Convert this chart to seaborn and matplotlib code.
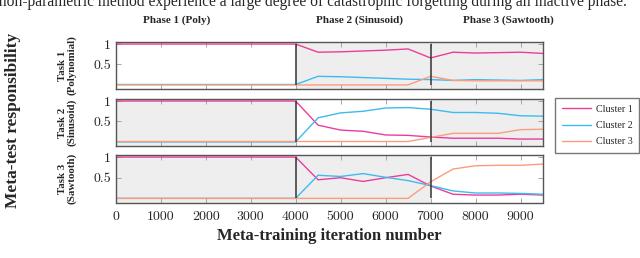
import numpy as np
import pandas as pd
import matplotlib
matplotlib.use("Agg")
import matplotlib.pyplot as plt
from matplotlib.transforms import blended_transform_factory
import seaborn as sns

iters = np.arange(0, 10000, 500)
clusters = ["Cluster 1", "Cluster 2", "Cluster 3"]
task_names = ["Task 1\n(Polynomial)", "Task 2\n(Sinusoid)", "Task 3\n(Sawtooth)"]
phase_names = ["Phase 1 (Poly)", "Phase 2 (Sinusoid)", "Phase 3 (Sawtooth)"]
phase_edges = [0, 4000, 7000, 9500]
x_ticks = [0, 1000, 2000, 3000, 4000, 5000, 6000, 7000, 8000, 9000]
y_ticks = [0.5, 1]
y_ticklabels = ["0.5", "1"]

# responsibilities, one value every 500 iterations (0 .. 9500)
task1_c1 = [1.0] * 9 + [0.80, 0.81, 0.83, 0.85, 0.88, 0.66, 0.80, 0.78, 0.79, 0.80, 0.77]
task1_c2 = [0.01] * 9 + [0.21, 0.20, 0.18, 0.16, 0.14, 0.13, 0.11, 0.13, 0.12, 0.11, 0.13]
task1_c3 = [0.0] * 9 + [0.0, 0.0, 0.0, 0.0, 0.0, 0.21, 0.11, 0.10, 0.10, 0.10, 0.10]

task2_c1 = [1.0] * 9 + [0.41, 0.29, 0.26, 0.17, 0.16, 0.12, 0.09, 0.09, 0.09, 0.07, 0.07]
task2_c2 = [0.0] * 9 + [0.59, 0.71, 0.75, 0.83, 0.84, 0.80, 0.72, 0.72, 0.70, 0.64, 0.63]
task2_c3 = [0.01] * 9 + [0.01, 0.01, 0.01, 0.01, 0.01, 0.11, 0.21, 0.21, 0.21, 0.30, 0.31]

task3_c1 = [1.0] * 9 + [0.45, 0.50, 0.41, 0.50, 0.58, 0.30, 0.10, 0.08, 0.08, 0.10, 0.08]
task3_c2 = [0.0] * 9 + [0.56, 0.53, 0.60, 0.51, 0.43, 0.31, 0.18, 0.13, 0.13, 0.12, 0.10]
task3_c3 = [0.0] * 9 + [0.0, 0.0, 0.0, 0.0, 0.0, 0.40, 0.71, 0.79, 0.80, 0.80, 0.83]

tasks = [
    [task1_c1, task1_c2, task1_c3],
    [task2_c1, task2_c2, task2_c3],
    [task3_c1, task3_c2, task3_c3],
]

rows = []
for t, series in enumerate(tasks):
    for c, vals in enumerate(series):
        for x, v in zip(iters, vals):
            rows.append((t, clusters[c], x, v))
df = pd.DataFrame(rows, columns=["task", "cluster", "iteration", "resp"])

palette = {"Cluster 1": "#ec3d9c", "Cluster 2": "#3cbcee", "Cluster 3": "#fb9c7c"}

sns.set_style("ticks")
serif = ["Liberation Serif", "DejaVu Serif"]
plt.rcParams["font.family"] = serif

W, H = 640, 258
fig = plt.figure(figsize=(6.4, 2.58), dpi=100)
left, right = 115.7, 543
panel_px = [(42, 89), (99, 146), (155, 202.5)]
axes = []
for top, bot in panel_px:
    ax = fig.add_axes([left / W, 1 - bot / H, (right - left) / W, (bot - top) / H])
    axes.append(ax)

for i, ax in enumerate(axes):
    for j in range(3):
        if j != i:
            ax.axvspan(phase_edges[j], phase_edges[j + 1], color="#eeeeee", lw=0, zorder=0)
    sns.lineplot(data=df[df.task == i], x="iteration", y="resp", hue="cluster",
                 palette=palette, ax=ax, legend=False, lw=1.0, zorder=2)
    ax.vlines(phase_edges[1:3], 0, 1, color="#333333", lw=1.1, zorder=3)
    ax.set_xlim(0, 9500)
    ax.set_ylim(-0.1, 1.05)
    ax.set_xticks(x_ticks)
    ax.set_yticks(y_ticks)
    ax.set_yticklabels(y_ticklabels)
    ax.set_xlabel("")
    ax.set_ylabel("")
    ax.tick_params(direction="in", top=True, right=True, length=3.5, width=0.6,
                   color="#999999", labelsize=10)
    ax.tick_params(axis="x", pad=6)
    for s in ax.spines.values():
        s.set_color("#555555")
        s.set_linewidth(1.0)
    if i < 2:
        ax.set_xticklabels([])
    for lab in ax.get_xticklabels() + ax.get_yticklabels():
        lab.set_fontfamily("cmr10")
    fig.text(67 / W, 1 - (panel_px[i][0] + panel_px[i][1]) / 2 / H, task_names[i],
             rotation=90, ha="center", va="center", fontsize=7.8, fontweight="bold",
             linespacing=1.05)

trans = blended_transform_factory(axes[0].transData, fig.transFigure)
for name, xpos in zip(phase_names, [1365, 5430, 8740]):
    axes[0].text(xpos, 1 - 20 / H, name, transform=trans, ha="center", va="center",
                 fontsize=8, fontweight="bold")

fig.text(13 / W, 1 - 120 / H, "Meta-test responsibility", rotation=90, ha="center",
         va="center", fontsize=12.5, fontweight="bold")
fig.text((left + right) / 2 / W, 1 - 236 / H, "Meta-training iteration number",
         ha="center", va="center", fontsize=12, fontweight="bold")

fig.text(627 / W, 1 - 6 / H,
         "a non-parametric method experience a large degree of catastrophic forgetting during an inactive phase.",
         ha="right", va="baseline", fontsize=11.2)

handles = axes[0].get_lines()[:3]
leg = fig.legend(handles, clusters, loc="upper left", bbox_to_anchor=(555 / W, 1 - 98 / H),
                 fancybox=False, fontsize=7.2, handlelength=2.9, borderpad=0.65,
                 labelspacing=0.75, handletextpad=0.5, borderaxespad=0)
leg.get_frame().set_edgecolor("#555555")
leg.get_frame().set_linewidth(1.0)

fig.savefig("out.png", dpi=100)
